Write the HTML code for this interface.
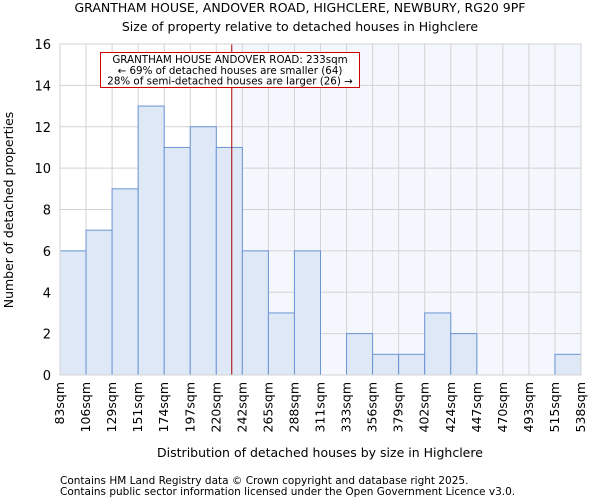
<!DOCTYPE html>
<html><head><meta charset="utf-8"><style>
body{margin:0;background:#fff;font-family:"DejaVu Sans","Liberation Sans",sans-serif}
text{font-family:"DejaVu Sans","Liberation Sans",sans-serif;fill:#000}
</style></head><body>
<svg id="chart" width="600" height="500" xmlns="http://www.w3.org/2000/svg">
<text x="300" y="12" font-size="12.5" text-anchor="middle">GRANTHAM HOUSE, ANDOVER ROAD, HIGHCLERE, NEWBURY, RG20 9PF</text>
<text x="300" y="31" font-size="12.5" text-anchor="middle">Size of property relative to detached houses in Highclere</text>
<g id="plot"></g>
<text x="320" y="457" font-size="12.5" text-anchor="middle">Distribution of detached houses by size in Highclere</text>
<text x="0" y="0" font-size="12.5" text-anchor="middle" transform="translate(13,210) rotate(-90)">Number of detached properties</text>
<text x="60" y="484" font-size="10.5" fill="#333">Contains HM Land Registry data © Crown copyright and database right 2025.</text>
<text x="60" y="495" font-size="10.5" fill="#333">Contains public sector information licensed under the Open Government Licence v3.0.</text>
</svg>
<script>
const categories=["83sqm","106sqm","129sqm","151sqm","174sqm","197sqm","220sqm","242sqm","265sqm","288sqm","311sqm","333sqm","356sqm","379sqm","402sqm","424sqm","447sqm","470sqm","493sqm","515sqm","538sqm"];
const counts=[6,7,9,13,11,12,11,6,3,6,0,2,1,1,3,2,0,0,0,1];
const yTicks=[0,2,4,6,8,10,12,14,16];
const binStart=83, binEnd=538;
const subjectSize=233;
const L=60,R=581,T=44,B=375,yMax=16;
const NS="http://www.w3.org/2000/svg";
const g=document.getElementById('plot');
const n=counts.length;
const xb=i=>L+(R-L)*i/n;
const xv=v=>L+(R-L)*(v-binStart)/(binEnd-binStart);
const y=v=>B-(B-T)*v/yMax;
function mk(t,a){const e=document.createElementNS(NS,t);for(const k in a)e.setAttribute(k,a[k]);g.appendChild(e);return e;}
const sx=xv(subjectSize);
let e=mk('rect',{x:sx,y:T,width:R-sx,height:B-T,fill:'#f4f7fd'});


for(let i=0;i<=n;i++){e=mk('line',{x1:xb(i),x2:xb(i),y1:T,y2:B,stroke:'#d3d3d3','stroke-width':1});

}
yTicks.forEach(t=>{e=mk('line',{x1:L,x2:R,y1:y(t),y2:y(t),stroke:'#d3d3d3','stroke-width':1});


e=mk('text',{x:L-9,y:y(t)+5,'font-size':13,'text-anchor':'end'});e.textContent=t;

});
counts.forEach((c,i)=>{if(c<=0)return;e=mk('rect',{x:xb(i),y:y(c),width:xb(i+1)-xb(i),height:B-y(c),fill:'#dfe8f6',stroke:'#6a94d4','stroke-width':1});

});
categories.forEach((c,i)=>{const x=xb(i);e=mk('text',{x:0,y:0,'font-size':12.5,'text-anchor':'end',transform:`translate(${x+4},${B+7}) rotate(-90)`});e.textContent=c;

});
e=mk('line',{x1:sx,x2:sx,y1:T,y2:B,stroke:'#aa0000','stroke-width':1});


e=mk('rect',{x:100.5,y:52.5,width:259,height:35,fill:'#fff',stroke:'#cc0000','stroke-width':1});


["GRANTHAM HOUSE ANDOVER ROAD: 233sqm","← 69% of detached houses are smaller (64)","28% of semi-detached houses are larger (26) →"].forEach((s,i)=>{e=mk('text',{x:230,y:63+i*10.8,'font-size':10.3,'text-anchor':'middle'});e.textContent=s;

});
e=mk('rect',{x:L,y:T,width:R-L,height:B-T,fill:'none',stroke:'#d3d3d3'});


</script>
</body></html>
